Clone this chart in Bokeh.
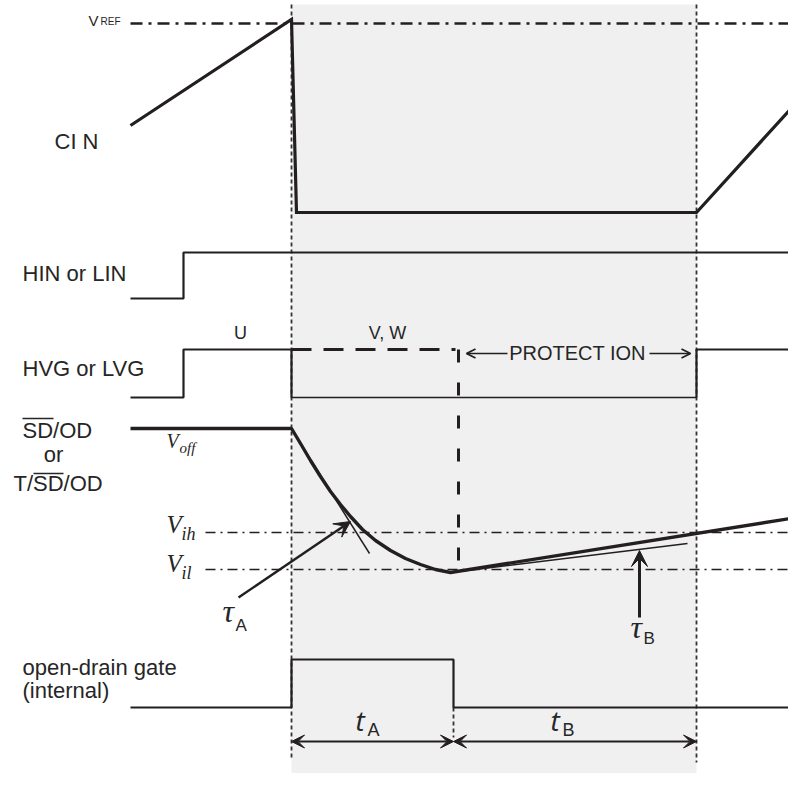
from bokeh.plotting import figure
from bokeh.models import Range1d, Arrow, VeeHead, OpenHead, ColumnDataSource
from bokeh.embed import file_html
from bokeh.resources import INLINE
from bokeh.core.properties import value

# ---------------- data (diagram units) ----------------
# event times
t_fault = 291          # over-current detected
t_a_end = 453          # end of t_A
t_b_end = 696          # end of protection (t_B)

# CIN waveform
cin_t = [130, 291, 296, 696, 796]
cin_v = [125, 19, 212, 212, 102]
vref_level = 23

# HIN / LIN
hin_t = [130, 183, 183, 796]
hin_v = [298, 298, 252, 252]

# HVG / LVG (phase U)
hvg_t = [130, 183, 183, 291, 291]
hvg_v = [397, 397, 349, 349, 397]
hvg_low_t = [291, 696]
hvg_low_v = [397, 397]
hvg_re_t = [696, 696, 796]
hvg_re_v = [397, 349, 349]
vw_t = [291, 455]
vw_v = [349, 349]
vw_edge_t = [458, 458]
vw_edge_v = [349, 573]

# SD/OD voltage
sd_t = [130, 291, 300, 310, 320, 330, 340, 350, 362, 375, 390, 405, 420, 435, 450, 796]
sd_v = [428, 428, 443, 460, 476, 491, 504, 516, 529, 540, 550, 558, 564, 569, 572, 517]
tau_a_t = [300, 369]
tau_a_v = [443, 553]
tau_b_t = [450, 687]
tau_b_v = [572, 543]
vih_level = 532
vil_level = 569

# open-drain gate (internal)
od_t = [130, 291, 291, 453, 453, 796]
od_v = [707, 707, 659, 659, 707, 707]

# ---------------- figure ----------------
INK = "#231f20"
TXT = "#262626"

W, H = 788, 773
p = figure(width=W, height=H, output_backend="svg", toolbar_location=None,
           x_range=Range1d(0, W), y_range=Range1d(H, 0),
           min_border=0, outline_line_color=None, background_fill_color="white")
p.axis.visible = False
p.grid.visible = False

# shaded protection window
p.quad(left=[t_fault], right=[t_b_end], top=[4], bottom=[800],
       fill_color="#f0f0f0", line_color=None)

# dotted time markers
p.line([t_fault, t_fault], [4, 760], line_color="#333333", line_width=1.8, line_dash="4 3")
p.line([t_b_end, t_b_end], [4, 762], line_color="#333333", line_width=1.8, line_dash="4 3")
p.line([t_a_end, t_a_end], [707, 737], line_color="#333333", line_width=1.8, line_dash="4 3")

# reference levels
p.line([130, 796], [vref_level, vref_level], line_color=INK, line_width=2.4, line_dash="12 6 3 6")
p.line([205, 796], [vih_level, vih_level], line_color=INK, line_width=1.3, line_dash="10 5 2 5")
p.line([205, 796], [vil_level, vil_level], line_color=INK, line_width=1.3, line_dash="10 5 2 5")

# waveforms
p.line(cin_t, cin_v, line_color=INK, line_width=3.2, line_join="miter")
p.line(hin_t, hin_v, line_color=INK, line_width=2.2)
p.line(hvg_t, hvg_v, line_color=INK, line_width=2.2)
p.line(hvg_low_t, hvg_low_v, line_color=INK, line_width=1.6)
p.line(hvg_re_t, hvg_re_v, line_color=INK, line_width=2.2)
p.line(vw_t, vw_v, line_color=INK, line_width=3, line_dash="20 12")
p.line(vw_edge_t, vw_edge_v, line_color=INK, line_width=3, line_dash="13 20")
p.line(sd_t, sd_v, line_color=INK, line_width=3.4)
p.line(tau_a_t, tau_a_v, line_color=INK, line_width=1.5)
p.line(tau_b_t, tau_b_v, line_color=INK, line_width=1.5)
p.line(od_t, od_v, line_color=INK, line_width=2.2)

# arrows
def arrow(x0, y0, x1, y1, width, head, both=False):
    src = ColumnDataSource(dict(x0=[x0], y0=[y0], x1=[x1], y1=[y1]))
    p.add_layout(Arrow(x_start="x0", y_start="y0", x_end="x1", y_end="y1", source=src,
                       line_color=INK, line_width=width, end=head,
                       start=(head.clone() if both else None)))

arrow(238, 597, 350, 521, 2.4, VeeHead(size=16, fill_color=INK, line_color=INK))
arrow(639, 617, 639, 550, 3, VeeHead(size=16, fill_color=INK, line_color=INK))
arrow(507, 353, 466, 353, 1.6, OpenHead(size=9, line_color=INK, line_width=1.8))
arrow(649, 353, 690, 353, 1.6, OpenHead(size=9, line_color=INK, line_width=1.8))
arrow(t_fault, 741, t_a_end, 741, 2.2, VeeHead(size=13, fill_color=INK, line_color=INK), both=True)
arrow(t_a_end, 741, t_b_end, 741, 2.2, VeeHead(size=13, fill_color=INK, line_color=INK), both=True)

# texts (y given as the visual baseline)
def txt(x, y, s, size, font="Liberation Sans", style="normal", align="left"):
    px = float(size.replace("px", ""))
    p.text(x=[x], y=[y - 0.36 * px], text=[s], text_font=value(font), text_font_size=size,
           text_font_style=style, text_color=TXT, text_align=align,
           text_baseline="alphabetic")

txt(88, 25, "V", "15px")
txt(100, 25, "REF", "10px")
txt(54, 149, "CI N", "22px")
txt(22, 281, "HIN or LIN", "22px")
txt(22, 376, "HVG or LVG", "22px")
txt(240, 339, "U", "18px", align="center")
txt(387, 339, "V, W", "18px", align="center")
txt(577, 360, "PROTECT ION", "20px", align="center")
txt(22, 438, "SD/OD", "22px")
txt(53, 462, "or", "22px", align="center")
txt(13, 491, "T/SD/OD", "22px")
p.segment(x0=[22, 33], y0=[418, 473], x1=[53, 63], y1=[418, 473], line_color=TXT, line_width=1.6)
txt(22, 675, "open-drain gate", "22px")
txt(22, 698, "(internal)", "22px")

SERIF = "Liberation Serif"
txt(166, 448, "V", "20px", SERIF, "italic")
txt(179, 453, "off", "15px", SERIF, "italic")
txt(166, 533, "V", "25px", SERIF, "italic")
txt(181, 540, "ih", "18px", SERIF, "italic")
txt(166, 572, "V", "25px", SERIF, "italic")
txt(181, 579, "il", "18px", SERIF, "italic")

txt(222, 622, "τ", "32px", SERIF, "italic")
txt(235, 631, "A", "17px")
txt(630, 638, "τ", "32px", SERIF, "italic")
txt(643, 644, "B", "17px")
txt(355, 730, "t", "28px", "Open Sans", "italic")
txt(367, 736, "A", "18px")
txt(550, 730, "t", "28px", "Open Sans", "italic")
txt(562, 736, "B", "18px")

open("out.html", "w").write(file_html(p, INLINE))
